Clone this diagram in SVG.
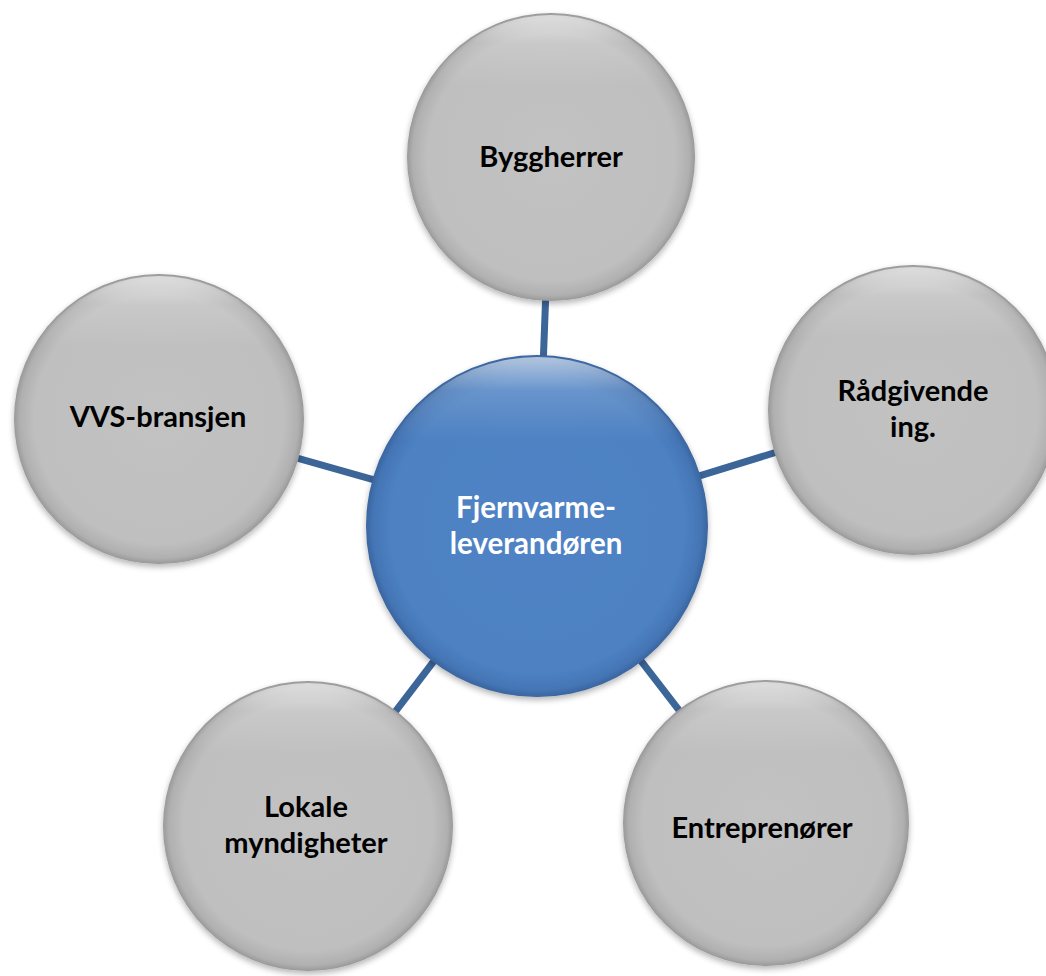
<svg xmlns="http://www.w3.org/2000/svg" width="1046" height="976" viewBox="0 0 1046 976">
<defs>
<radialGradient id="gGray" cx="0.5" cy="0.5" r="0.5">
<stop offset="0" stop-color="#c2c2c2"/>
<stop offset="0.86" stop-color="#bfbfbf"/>
<stop offset="0.96" stop-color="#b0b0b0"/>
<stop offset="1" stop-color="#999999"/>
</radialGradient>
<radialGradient id="gBlue" cx="0.5" cy="0.5" r="0.5">
<stop offset="0" stop-color="#5083c5"/>
<stop offset="0.86" stop-color="#4d81c2"/>
<stop offset="0.96" stop-color="#4475b5"/>
<stop offset="1" stop-color="#3a659f"/>
</radialGradient>
<linearGradient id="gHi" x1="0" y1="0" x2="0" y2="1">
<stop offset="0" stop-color="#ffffff" stop-opacity="0.6"/>
<stop offset="0.1" stop-color="#ffffff" stop-opacity="0.15"/>
<stop offset="0.25" stop-color="#ffffff" stop-opacity="0"/>
</linearGradient>
<filter id="sh" x="-20%" y="-20%" width="140%" height="140%">
<feGaussianBlur in="SourceAlpha" stdDeviation="3"/>
<feOffset dx="0" dy="3" result="b"/>
<feComponentTransfer><feFuncA type="linear" slope="0.3"/></feComponentTransfer>
<feMerge><feMergeNode/><feMergeNode in="SourceGraphic"/></feMerge>
</filter>
</defs>
<style>
.conn line{stroke:#3c6598;stroke-width:7;stroke-linecap:butt}
.gray{fill:url(#gGray);filter:url(#sh)}
.blue{fill:url(#gBlue);filter:url(#sh)}
.hi{fill:url(#gHi)}
.t{font-family:"Lato","Open Sans",sans-serif;font-weight:bold;font-size:29px;text-anchor:middle;fill:#000}
.tw{font-family:"Lato","Open Sans",sans-serif;font-weight:bold;font-size:29.5px;text-anchor:middle;fill:#ffffff}
</style>
<rect width="1046" height="976" fill="#ffffff"/>
<g id="connectors" class="conn">
<line x1="537" y1="526" x2="551" y2="157"/>
<line x1="537" y1="526" x2="913" y2="410"/>
<line x1="537" y1="526" x2="159" y2="419"/>
<line x1="537" y1="526" x2="308" y2="826"/>
<line x1="537" y1="526" x2="766" y2="823"/>
</g>
<g id="n-byggherrer">
<circle class="gray" cx="551" cy="157" r="144"/>
<circle class="hi" cx="551" cy="157" r="142"/>
<text class="t" x="551" y="167">Byggherrer</text>
</g>
<g id="n-radgivende">
<circle class="gray" cx="913" cy="410" r="145"/>
<circle class="hi" cx="913" cy="410" r="143"/>
<text class="t" x="913" y="401">Rådgivende</text>
<text class="t" x="913" y="437">ing.</text>
</g>
<g id="n-vvs">
<circle class="gray" cx="159" cy="419" r="145"/>
<circle class="hi" cx="159" cy="419" r="143"/>
<text class="t" x="158" y="427">VVS-bransjen</text>
</g>
<g id="n-lokale">
<circle class="gray" cx="308" cy="826" r="145"/>
<circle class="hi" cx="308" cy="826" r="143"/>
<text class="t" x="306" y="817">Lokale</text>
<text class="t" x="306" y="853">myndigheter</text>
</g>
<g id="n-entreprenorer">
<circle class="gray" cx="766" cy="823" r="143"/>
<circle class="hi" cx="766" cy="823" r="141"/>
<text class="t" x="762" y="838">Entreprenører</text>
</g>
<g id="n-center">
<circle class="blue" cx="537" cy="526" r="171"/>
<circle class="hi" cx="537" cy="526" r="169"/>
<text class="tw" x="536" y="518">Fjernvarme-</text>
<text class="tw" x="536" y="554">leverandøren</text>
</g>
</svg>
